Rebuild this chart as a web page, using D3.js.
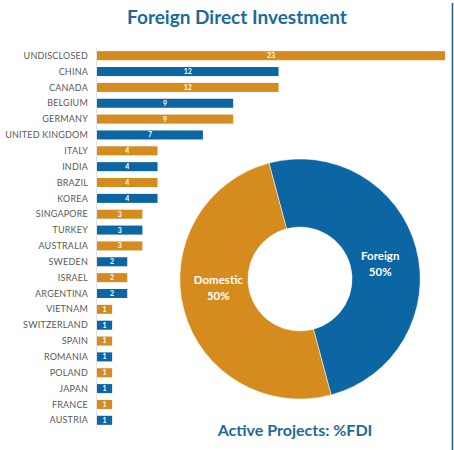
<!DOCTYPE html>
<html>
<head>
<meta charset="utf-8">
<script src="https://cdn.jsdelivr.net/npm/d3@7"></script>
<style>
  body { margin: 0; background: #fff; }
  text { font-family: Lato, "Open Sans", sans-serif; }
</style>
</head>
<body>
<div id="chart"></div>
<script>
const countries = ['UNDISCLOSED', 'CHINA', 'CANADA', 'BELGIUM', 'GERMANY', 'UNITED KINGDOM',
  'ITALY', 'INDIA', 'BRAZIL', 'KOREA', 'SINGAPORE', 'TURKEY', 'AUSTRALIA', 'SWEDEN', 'ISRAEL',
  'ARGENTINA', 'VIETNAM', 'SWITZERLAND', 'SPAIN', 'ROMANIA', 'POLAND', 'JAPAN', 'FRANCE', 'AUSTRIA'];
const projects = [23, 12, 12, 9, 9, 7, 4, 4, 4, 4, 3, 3, 3, 2, 2, 2, 1, 1, 1, 1, 1, 1, 1, 1];
const shareLabels = ['Foreign', 'Domestic'];
const shareValues = [50, 50];

const orange = '#d68b1f';
const blue = '#0b66a3';
const titleBlue = '#1b6c9a';

const width = 454;
const height = 450;

const svg = d3.select('#chart').append('svg')
  .attr('width', width)
  .attr('height', height);

// right edge border
svg.append('line')
  .attr('x1', 452.5).attr('x2', 452.5)
  .attr('y1', 3).attr('y2', height)
  .attr('stroke', '#1f5f7a')
  .attr('stroke-width', 1.5);

svg.append('text')
  .attr('x', 237)
  .attr('y', 24)
  .attr('text-anchor', 'middle')
  .attr('font-size', 19)
  .attr('font-weight', 'bold')
  .attr('fill', titleBlue)
  .text('Foreign Direct Investment');

// bars
const x = d3.scaleLinear().domain([0, 23]).range([97, 445]);
const y = d3.scaleBand().domain(countries).range([48, 428]).paddingInner(0.43).paddingOuter(0.2);

svg.append('line')
  .attr('x1', 96.5).attr('x2', 96.5)
  .attr('y1', 48).attr('y2', 428)
  .attr('stroke', '#e3e3e3');

const row = svg.selectAll('g.row')
  .data(countries.map((c, i) => ({ name: c, value: projects[i], i })))
  .enter()
  .append('g')
  .attr('class', 'row');

row.append('rect')
  .attr('x', x(0))
  .attr('y', d => y(d.name))
  .attr('width', d => x(d.value) - x(0))
  .attr('height', y.bandwidth())
  .attr('fill', d => (d.i % 2 === 0 ? orange : blue));

row.append('text')
  .attr('x', 88)
  .attr('y', d => y(d.name) + y.bandwidth() / 2)
  .attr('dy', '0.35em')
  .attr('text-anchor', 'end')
  .attr('font-size', 9)
  .attr('letter-spacing', 0.2)
  .attr('fill', '#5a5a5a')
  .text(d => d.name);

row.append('text')
  .attr('x', d => (x(0) + x(d.value)) / 2)
  .attr('y', d => y(d.name) + y.bandwidth() / 2)
  .attr('dy', '0.35em')
  .attr('text-anchor', 'middle')
  .attr('font-size', 7)
  .attr('font-weight', 'bold')
  .attr('fill', '#fff')
  .text(d => d.value);

// donut
const cx = 300;
const cy = 279;
const pie = d3.pie().sort(null)
  .value(d => d.value)
  .startAngle(-15 * Math.PI / 180)
  .endAngle(345 * Math.PI / 180);
const arc = d3.arc().innerRadius(52).outerRadius(120);
// labels sit a little off the slice centroids, as in the original
const labelShift = [3, 10];

const slices = svg.append('g')
  .attr('transform', `translate(${cx},${cy})`)
  .selectAll('g')
  .data(pie(shareValues.map((v, i) => ({ label: shareLabels[i], value: v }))))
  .enter()
  .append('g');

slices.append('path')
  .attr('d', arc)
  .attr('fill', (d, i) => (i === 0 ? blue : orange))
  .attr('stroke', '#fff')
  .attr('stroke-width', 0.5);

const lbl = slices.append('text')
  .attr('transform', (d, i) => {
    const a = (d.startAngle + d.endAngle) / 2 + labelShift[i] * Math.PI / 180;
    return `translate(${d3.pointRadial(a, 82)})`;
  })
  .attr('text-anchor', 'middle')
  .attr('font-size', 11.5)
  .attr('font-weight', 'bold')
  .attr('fill', '#fff');

lbl.append('tspan').attr('x', 0).attr('dy', '-0.2em').text(d => d.data.label);
lbl.append('tspan').attr('x', 0).attr('dy', '1.4em').text(d => d.data.value + '%');

svg.append('text')
  .attr('x', 295)
  .attr('y', 436)
  .attr('text-anchor', 'middle')
  .attr('font-size', 16)
  .attr('font-weight', 'bold')
  .attr('fill', titleBlue)
  .text('Active Projects: %FDI');
</script>
</body>
</html>
